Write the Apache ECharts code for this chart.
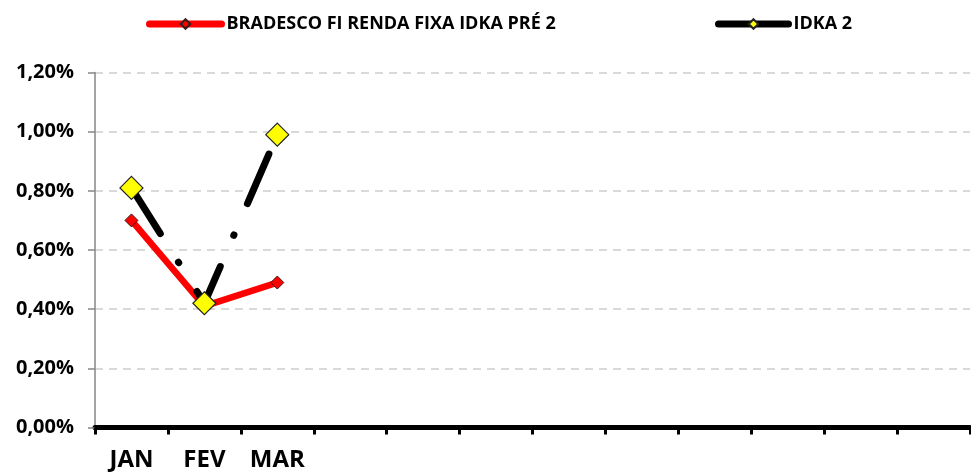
<!DOCTYPE html>
<html>
<head>
<meta charset="utf-8">
<script src="https://cdn.jsdelivr.net/npm/echarts@6/dist/echarts.min.js"></script>
<style>
  html, body { margin: 0; padding: 0; background: #fff; }
  #ech { width: 971px; height: 472px; }
</style>
</head>
<body>
<div id="ech"></div>
<script>
// dados (% ao mês)
var meses = ['JAN', 'FEV', 'MAR', 'ABR', 'MAI', 'JUN', 'JUL', 'AGO', 'SET', 'OUT', 'NOV', 'DEZ'];
var nomeFundo = 'BRADESCO FI RENDA FIXA IDKA PRÉ 2';
var nomeIndice = 'IDKA 2';
var fundo = [0.70, 0.41, 0.49];
var indice = [0.81, 0.42, 0.99];
var yTicks = [0, 0.2, 0.4, 0.6, 0.8, 1.0, 1.2];

var fonte = '"Open Sans", "Liberation Sans", sans-serif';

var ownChart = echarts.init(document.getElementById('ech'));
var option = {
    animation: false,
    backgroundColor: '#fff',
    legend: [{
        data: [nomeFundo],
        left: 141,
        top: 10,
        itemWidth: 72,
        itemHeight: 12,
        textStyle: { fontFamily: fonte, fontWeight: 'bold', fontSize: 18, color: '#000' },
        lineStyle: { type: 'solid', width: 7, cap: 'round' }
    }, {
        data: [nomeIndice],
        left: 710,
        top: 10,
        itemWidth: 70,
        itemHeight: 12,
        textStyle: { fontFamily: fonte, fontWeight: 'bold', fontSize: 18, color: '#000' },
        lineStyle: { type: 'solid', width: 7, cap: 'round' }
    }],
    grid: { left: 95, right: 1, top: 72.5, bottom: 42.5, containLabel: false },
    xAxis: {
        type: 'category',
        data: meses,
        boundaryGap: true,
        offset: 1.5,
        axisLine: { lineStyle: { color: '#000', width: 5 } },
        axisTick: { show: true, length: 7, lineStyle: { color: '#000', width: 3 } },
        axisLabel: {
            interval: 0,
            margin: 19,
            fontFamily: fonte, fontWeight: 'bold', fontSize: 24, color: '#000',
            formatter: function (v, i) { return i < fundo.length ? v : ''; } // só meses com dados
        },
        splitLine: { show: false }
    },
    yAxis: {
        type: 'value',
        min: yTicks[0],
        max: yTicks[yTicks.length - 1],
        interval: 0.2,
        axisLine: { show: true, lineStyle: { color: '#868686', width: 1.5 } },
        axisTick: { show: true, length: 7, lineStyle: { color: '#868686', width: 1.5 } },
        axisLabel: {
            margin: 21,
            fontFamily: fonte, fontWeight: 'bold', fontSize: 20, color: '#000',
            formatter: function (v) { return v.toFixed(2).replace('.', ',') + '%'; }
        },
        splitLine: { lineStyle: { color: '#d9d9d9', width: 2, type: [8, 6] } }
    },
    series: [{
        name: nomeFundo,
        type: 'line',
        data: fundo,
        symbol: 'diamond',
        symbolSize: 13,
        itemStyle: { color: '#ff0000', borderColor: '#3a1a1a', borderWidth: 1 },
        lineStyle: { color: '#ff0000', width: 6.5, cap: 'round', join: 'round' },
        z: 2
    }, {
        name: nomeIndice,
        type: 'line',
        data: indice,
        symbol: 'diamond',
        symbolSize: 23,
        itemStyle: { color: '#ffff00', borderColor: '#222', borderWidth: 1.2 },
        lineStyle: { color: '#000', width: 7, cap: 'round', join: 'round', type: [54, 34, 0.5, 34] },
        z: 3
    }]
};

ownChart.setOption(option);
</script>
</body>
</html>
